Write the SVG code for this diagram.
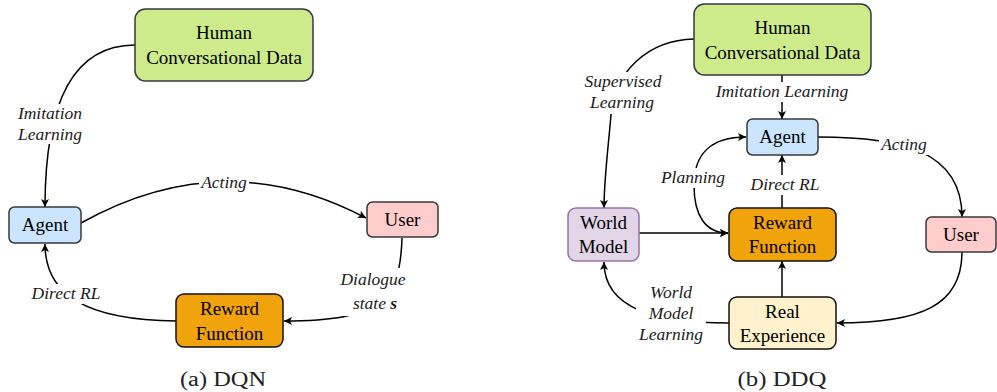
<svg xmlns="http://www.w3.org/2000/svg" width="997" height="392" viewBox="0 0 997 392">
  <defs>
    <marker id="arrow" viewBox="0 0 10 10" refX="10" refY="5" markerWidth="8" markerHeight="8" markerUnits="userSpaceOnUse" orient="auto-start-reverse">
      <path d="M0,0 L10,5 L0,10 L2.5,5 Z" fill="#000"/>
    </marker>
    <style>
      text { font-family: 'Liberation Serif', 'DejaVu Serif', serif; }
      .node-text { font-size: 19px; fill: #000; text-anchor: middle; }
      .label { font-size: 17.5px; font-style: italic; fill: #1a1a1a; text-anchor: middle; }
      .label-bg { fill: #fff; }
      .caption { font-size: 20px; fill: #222; text-anchor: middle; }
      .edge { fill: none; stroke: #000; stroke-width: 1.5; }
      .arrow-end { marker-end: url(#arrow); }
      .arrow-both { marker-start: url(#arrow); marker-end: url(#arrow); }
      .green { fill: #cdeb8b; stroke: #36393d; stroke-width: 1.5; }
      .blue { fill: #cce5ff; stroke: #36393d; stroke-width: 1.5; }
      .pink { fill: #ffcccc; stroke: #36393d; stroke-width: 1.5; }
      .orange { fill: #f0a30a; stroke: #111; stroke-width: 1.5; }
      .cream { fill: #fff2cc; stroke: #111; stroke-width: 1.5; }
      .purple { fill: #e1d5e7; stroke: #9673a6; stroke-width: 1.5; }
    </style>
  </defs>

  <!-- (a) DQN -->
  <g id="dqn-connectors">
    <path class="edge arrow-end" d="M135,45 C68,45 45,112 45,207"/>
    <path class="edge arrow-end" d="M81,223 Q224,143 366,218"/>
    <path class="edge arrow-end" d="M402,238 C400,300 382,321 284,321"/>
    <path class="edge arrow-end" d="M176,321 C88,320 45,296 45,244"/>
  </g>
  <g id="dqn-labels">
    <rect class="label-bg" x="16" y="104" width="68" height="40"/>
    <text class="label" x="50" y="119">Imitation</text>
    <text class="label" x="50" y="140">Learning</text>
    <rect class="label-bg" x="199" y="174" width="50" height="19"/>
    <text class="label" x="224" y="188">Acting</text>
    <rect class="label-bg" x="26" y="284" width="80" height="20"/>
    <text class="label" x="66" y="299">Direct RL</text>
    <rect class="label-bg" x="334" y="268" width="78" height="48"/>
    <text class="label" x="373" y="285">Dialogue</text>
    <text class="label" x="375" y="309">state <tspan font-weight="bold">s</tspan></text>
  </g>
  <g id="dqn-human-data">
    <rect class="green" x="135" y="9" width="178" height="72" rx="10.5"/>
    <text class="node-text" x="224" y="39">Human</text>
    <text class="node-text" x="224" y="63.5">Conversational Data</text>
  </g>
  <g id="dqn-agent">
    <rect class="blue" x="9" y="207" width="72" height="36" rx="5.5"/>
    <text class="node-text" x="45" y="231">Agent</text>
  </g>
  <g id="dqn-user">
    <rect class="pink" x="367" y="202" width="71" height="35" rx="5.5"/>
    <text class="node-text" x="402.5" y="226">User</text>
  </g>
  <g id="dqn-reward">
    <rect class="orange" x="176" y="294" width="107" height="53" rx="8"/>
    <text class="node-text" x="229.5" y="315">Reward</text>
    <text class="node-text" x="229.5" y="339.5">Function</text>
  </g>
  <text class="caption" x="223" y="386" textLength="86" lengthAdjust="spacingAndGlyphs">(a) DQN</text>

  <!-- (b) DDQ -->
  <g id="ddq-connectors">
    <path class="edge arrow-end" d="M782,75 L782,119"/>
    <path class="edge arrow-end" d="M694,39 C648,40 614,72 611,115 C608,150 604,180 604,208"/>
    <path class="edge arrow-end" d="M818,137 C900,137 962,150 962,217"/>
    <path class="edge arrow-end" d="M782,208 L782,155"/>
    <path class="edge arrow-both" d="M746,137 C710,137 694,155 694,185 C694,215 705,233 728,233"/>
    <path class="edge arrow-end" d="M639,233 L728,233"/>
    <path class="edge arrow-end" d="M962,252 C962,305 922,323 837,323"/>
    <path class="edge arrow-end" d="M782,297 L782,261"/>
    <path class="edge arrow-end" d="M729,323 C658,323 604,310 604,262"/>
  </g>
  <g id="ddq-labels">
    <rect class="label-bg" x="713" y="82" width="138" height="20"/>
    <text class="label" x="782" y="97">Imitation Learning</text>
    <rect class="label-bg" x="580" y="72" width="86" height="42"/>
    <text class="label" x="623" y="87">Supervised</text>
    <text class="label" x="622" y="108">Learning</text>
    <rect class="label-bg" x="879" y="136" width="50" height="19"/>
    <text class="label" x="904" y="150">Acting</text>
    <rect class="label-bg" x="748" y="175" width="74" height="20"/>
    <text class="label" x="785" y="190">Direct RL</text>
    <rect class="label-bg" x="658" y="168" width="70" height="20"/>
    <text class="label" x="693" y="183">Planning</text>
    <rect class="label-bg" x="636" y="283" width="70" height="62"/>
    <text class="label" x="671" y="298">World</text>
    <text class="label" x="671" y="319">Model</text>
    <text class="label" x="671" y="340">Learning</text>
  </g>
  <g id="ddq-human-data">
    <rect class="green" x="694" y="4" width="177" height="71" rx="10.5"/>
    <text class="node-text" x="782.5" y="34">Human</text>
    <text class="node-text" x="782.5" y="58.5">Conversational Data</text>
  </g>
  <g id="ddq-agent">
    <rect class="blue" x="747" y="119" width="71" height="36" rx="5.5"/>
    <text class="node-text" x="782.5" y="143">Agent</text>
  </g>
  <g id="ddq-world-model">
    <rect class="purple" x="568" y="208" width="71" height="53" rx="8"/>
    <text class="node-text" x="603.5" y="228.5">World</text>
    <text class="node-text" x="603.5" y="253">Model</text>
  </g>
  <g id="ddq-reward">
    <rect class="orange" x="729" y="208" width="107" height="53" rx="8"/>
    <text class="node-text" x="782.5" y="228.5">Reward</text>
    <text class="node-text" x="782.5" y="253">Function</text>
  </g>
  <g id="ddq-user">
    <rect class="pink" x="926" y="217" width="70" height="35" rx="5.5"/>
    <text class="node-text" x="961" y="241">User</text>
  </g>
  <g id="ddq-real-experience">
    <rect class="cream" x="729" y="297" width="107" height="52" rx="8"/>
    <text class="node-text" x="782.5" y="317.5">Real</text>
    <text class="node-text" x="782.5" y="342">Experience</text>
  </g>
  <text class="caption" x="782" y="386" textLength="89" lengthAdjust="spacingAndGlyphs">(b) DDQ</text>
</svg>
